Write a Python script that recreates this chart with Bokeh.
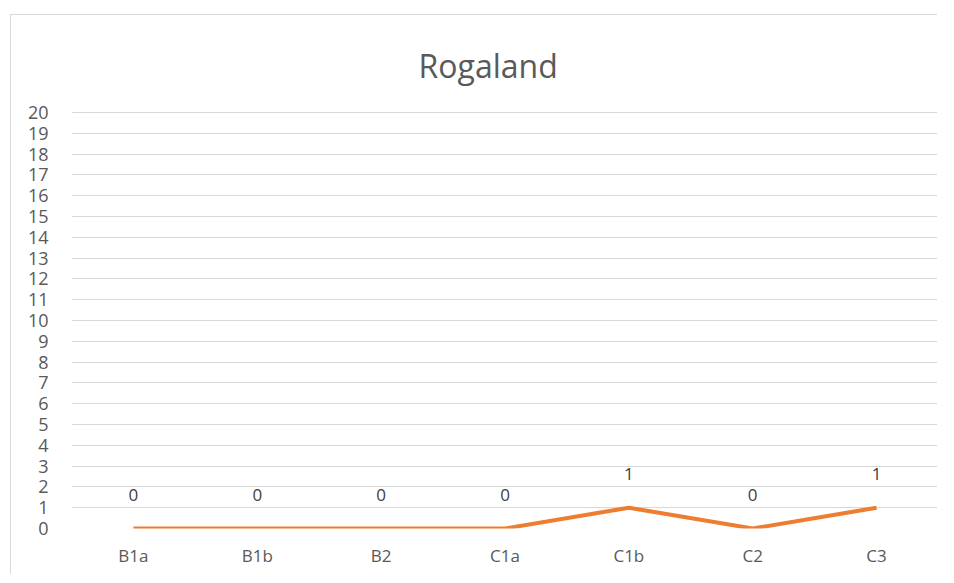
from bokeh.plotting import figure
from bokeh.models import ColumnDataSource, FixedTicker
from bokeh.core.properties import value
from bokeh.embed import file_html
from bokeh.resources import INLINE

categories = ["B1a", "B1b", "B2", "C1a", "C1b", "C2", "C3"]
values = [0, 0, 0, 0, 1, 0, 1]
y_ticks = list(range(0, 21))

FONT = "Open Sans"
src = ColumnDataSource(dict(x=categories, y=values, lbl=[str(v) for v in values]))

p = figure(width=927, height=560, x_range=categories, y_range=(0, 20.05),
           output_backend="svg", toolbar_location=None, title="Rogaland",
           min_border_left=60, min_border_right=0, min_border_bottom=47, min_border_top=96)
p.styles = {"margin-left": "10px", "margin-top": "14px",
            "border-left": "1px solid #d9d9d9", "border-top": "1px solid #d9d9d9"}
p.title.align = "left"
p.title.offset = 347
p.title.text_font = FONT
p.title.text_font_size = "32px"
p.title.text_font_style = "normal"
p.title.text_color = "#595959"
p.title.standoff = 50

p.outline_line_color = None
p.xgrid.grid_line_color = None
p.ygrid.grid_line_color = "#d9d9d9"
p.ygrid.grid_line_width = 1.2
p.yaxis.ticker = FixedTicker(ticks=y_ticks)

for ax in (p.xaxis[0], p.yaxis[0]):
    ax.axis_line_color = None
    ax.major_tick_line_color = None
    ax.minor_tick_line_color = None
    ax.major_label_text_font = FONT
    ax.major_label_text_color = "#595959"
p.yaxis.major_label_text_font_size = "18px"
p.yaxis.major_label_standoff = 17
p.xaxis.major_label_text_font_size = "17px"
p.xaxis.major_label_standoff = 9

p.line("x", "y", source=src, line_color="#ED7D31", line_width=4, line_join="round")
p.text("x", "y", text="lbl", source=src, text_align="center", text_baseline="middle",
       y_offset=-34, text_font=value(FONT), text_font_size="17px", text_color="#404040")

open("out.html", "w").write(file_html(p, INLINE))
